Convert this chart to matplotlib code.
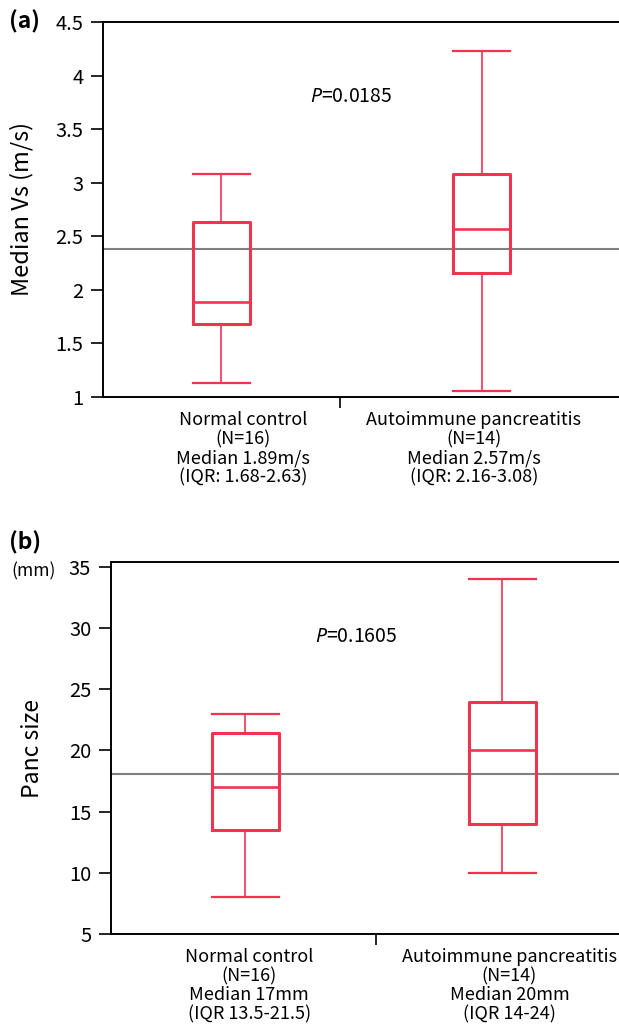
import matplotlib
matplotlib.use("Agg")
import matplotlib.pyplot as plt
from matplotlib.ticker import FormatStrFormatter, FixedLocator

plt.rcParams['font.family'] = ['Noto Sans CJK JP', 'DejaVu Sans']
plt.rcParams['mathtext.fontset'] = 'custom'
plt.rcParams['mathtext.it'] = 'Noto Sans:italic'
plt.rcParams['mathtext.rm'] = 'Noto Sans'

# ---- data ----
groups = ["Normal control", "Autoimmune pancreatitis"]
# panel (a): Median Vs (m/s)
vs_whislo = [1.13, 1.06]
vs_q1 = [1.68, 2.16]
vs_med = [1.89, 2.57]
vs_q3 = [2.63, 3.08]
vs_whishi = [3.08, 4.23]
vs_ref = 2.38
vs_labels = ["Normal control\n(N=16)\nMedian 1.89m/s\n(IQR: 1.68-2.63)",
             "Autoimmune pancreatitis\n(N=14)\nMedian 2.57m/s\n(IQR: 2.16-3.08)"]
vs_p = "0.0185"
vs_yticks = [1, 1.5, 2, 2.5, 3, 3.5, 4, 4.5]

# panel (b): Panc size (mm)
ps_whislo = [8, 10]
ps_q1 = [13.5, 14]
ps_med = [17, 20]
ps_q3 = [21.4, 24]
ps_whishi = [23, 34]
ps_ref = 18.1
ps_labels = ["Normal control\n(N=16)\nMedian 17mm\n(IQR 13.5-21.5)",
             "Autoimmune pancreatitis\n(N=14)\nMedian 20mm\n(IQR 14-24)"]
ps_p = "0.1605"
ps_yticks = [5, 10, 15, 20, 25, 30, 35]

RED = '#F2334F'
GRAY = '#808080'

W, H = 619, 1028
fig = plt.figure(figsize=(W / 100, H / 100), dpi=100)


def panel(rect, whislo, q1, med, q3, whishi, ref, labels, pval, yticks,
          ylim, xlim, widths, tickpos, labelpos, ptxt_xy, ylabel, ylsize,
          ylx):
    ax = fig.add_axes(rect)
    stats = []
    for i in range(len(med)):
        stats.append(dict(whislo=whislo[i], q1=q1[i], med=med[i], q3=q3[i],
                          whishi=whishi[i], fliers=[]))
    ax.axhline(ref, color=GRAY, lw=1.5, zorder=1)
    ax.bxp(stats, positions=[1, 2], widths=widths, showfliers=False,
           boxprops=dict(color=RED, lw=2.2),
           whiskerprops=dict(color=RED, lw=1.2),
           capprops=dict(color=RED, lw=1.6),
           medianprops=dict(color=RED, lw=1.9),
           capwidths=widths, manage_ticks=False, zorder=3)
    ax.set_ylim(*ylim)
    ax.set_xlim(*xlim)
    ax.set_yticks(yticks)
    ax.yaxis.set_major_formatter(FormatStrFormatter('%g'))
    ax.tick_params(axis='y', direction='out', length=9, width=1.2,
                   labelsize=14.5, pad=5)
    ax.xaxis.set_major_locator(FixedLocator([tickpos]))
    ax.xaxis.set_minor_locator(FixedLocator(labelpos))
    ax.set_xticklabels([''])
    ax.set_xticklabels(labels, minor=True)
    ax.tick_params(axis='x', which='major', direction='out', length=8,
                   width=1.2)
    ax.tick_params(axis='x', which='minor', length=0, labelsize=13, pad=10)
    for t in ax.get_xticklabels(minor=True):
        t.set_linespacing(1.08)
        t.set_horizontalalignment('center')
    for s in ['left', 'top', 'bottom']:
        ax.spines[s].set_linewidth(1.4)
    ax.spines['right'].set_visible(False)
    ax.text(ptxt_xy[0], ptxt_xy[1], r'$\it{P}$=' + pval, ha='center',
            va='center', fontsize=14)
    ax.set_ylabel(ylabel, fontsize=ylsize)
    ax.yaxis.set_label_coords(ylx, 0.5)
    return ax


axa = panel([103 / W, 1 - 397 / H, 540 / W, 375 / H],
            vs_whislo, vs_q1, vs_med, vs_q3, vs_whishi, vs_ref, vs_labels,
            vs_p, vs_yticks, (1, 4.5), (0.546, 2.62), 0.22, 1.458,
            [1.085, 1.97], (1.50, 3.80), "Median Vs (m/s)", 17,
            (33 - 103) / 540)

axb = panel([110.7 / W, 1 - 934 / H, 532 / W, 372 / H],
            ps_whislo, ps_q1, ps_med, ps_q3, ps_whishi, ps_ref, ps_labels,
            ps_p, ps_yticks, (5, 35.4), (0.477, 2.545), 0.26, 1.51,
            [1.016, 2.027], (1.43, 29.3), "Panc size", 16.5,
            (44 - 110.7) / 532)

fig.text(9 / W, 1 - 22 / H, '(a)', fontsize=16.5, fontweight='bold',
         va='center', ha='left')
fig.text(9 / W, 1 - 543 / H, '(b)', fontsize=16.5, fontweight='bold',
         va='center', ha='left')
fig.text(11 / W, 1 - 571 / H, '(mm)', fontsize=12.5, va='center', ha='left')

fig.savefig('out.png', dpi=100)
